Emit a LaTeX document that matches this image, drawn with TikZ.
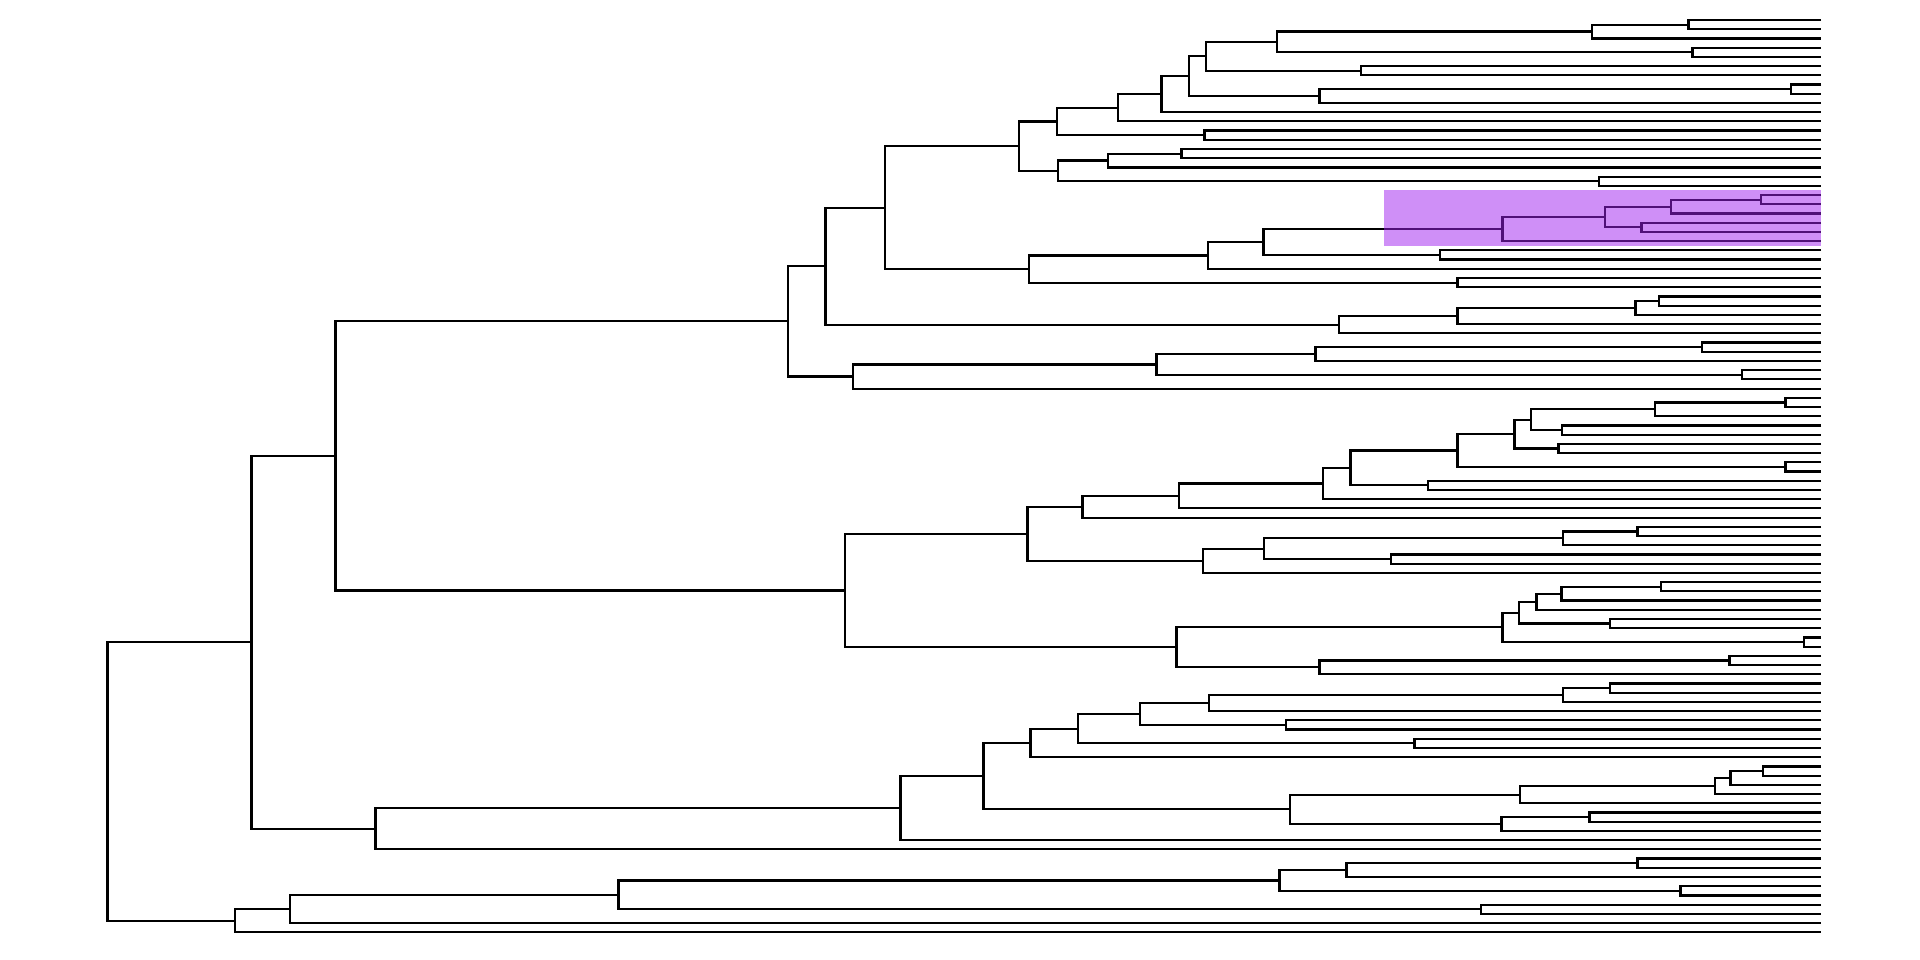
\documentclass[tikz,border=0pt]{standalone}
\usetikzlibrary{calc}
\definecolor{cladepurple}{RGB}{160,32,240}

% one clade: name, x of the fork, upper child, lower child
\newcommand\clade[4]{%
  \path let \p1=(#3), \p2=(#4) in coordinate (#1) at (#2pt,{0.5*(\y1+\y2)});
  \draw[branch] (#3) -| (#1) |- (#4);}

\begin{document}
\begin{tikzpicture}[x=1pt,y=-1pt,
    branch/.style={line width=2.2pt},
    highlight/.style={fill=cladepurple,fill opacity=0.5}]
        \useasboundingbox (0,0) rectangle (1920,960);

        \foreach \i in {1,...,100}
            \coordinate (l\i) at (1821,{20+(\i-1)*9.215});

        \clade{a1}{1688.5}{l1}{l2}
        \clade{a2}{1592}{a1}{l3}
        \clade{a3}{1692.5}{l4}{l5}
        \clade{a4}{1277}{a2}{a3}
        \clade{a5}{1361}{l6}{l7}
        \clade{a6}{1206}{a4}{a5}
        \clade{a7}{1791}{l8}{l9}
        \clade{a8}{1319.5}{a7}{l10}
        \clade{a9}{1189}{a6}{a8}
        \clade{a10}{1161.5}{a9}{l11}
        \clade{a11}{1118}{a10}{l12}
        \clade{a12}{1204.5}{l13}{l14}
        \clade{a13}{1057}{a11}{a12}
        \clade{a14}{1181.5}{l15}{l16}
        \clade{a15}{1108}{a14}{l17}
        \clade{a16}{1599}{l18}{l19}
        \clade{a17}{1058}{a15}{a16}
        \clade{a18}{1019}{a13}{a17}

        \clade{b1}{1761}{l20}{l21}
        \clade{b2}{1671}{b1}{l22}
        \clade{b3}{1641.5}{l23}{l24}
        \clade{b4}{1605}{b2}{b3}
        \clade{b5}{1502.5}{b4}{l25}
        \clade{b6}{1440}{l26}{l27}
        \clade{b7}{1263.5}{b5}{b6}
        \clade{b8}{1208}{b7}{l28}
        \clade{b9}{1457.5}{l29}{l30}
        \clade{b10}{1029}{b8}{b9}
        \clade{c1}{885}{a18}{b10}

        \clade{d1}{1659}{l31}{l32}
        \clade{d2}{1635.5}{d1}{l33}
        \clade{d3}{1457.5}{d2}{l34}
        \clade{d4}{1339}{d3}{l35}
        \clade{c2}{825.5}{c1}{d4}
        \clade{d5}{1702}{l36}{l37}
        \clade{d6}{1315.5}{d5}{l38}
        \clade{d7}{1742}{l39}{l40}
        \clade{d8}{1156.5}{d6}{d7}
        \clade{d9}{853}{d8}{l41}
        \clade{c3}{788}{c2}{d9}

        \clade{e1}{1785.5}{l42}{l43}
        \clade{e2}{1655}{e1}{l44}
        \clade{e3}{1562}{l45}{l46}
        \clade{e4}{1531}{e2}{e3}
        \clade{e5}{1558.5}{l47}{l48}
        \clade{e6}{1514.5}{e4}{e5}
        \clade{e7}{1785.5}{l49}{l50}
        \clade{e8}{1457.5}{e6}{e7}
        \clade{e9}{1428}{l51}{l52}
        \clade{e10}{1350.5}{e8}{e9}
        \clade{e11}{1323}{e10}{l53}
        \clade{e12}{1179}{e11}{l54}
        \clade{e13}{1082.5}{e12}{l55}
        \clade{f1}{1637.5}{l56}{l57}
        \clade{f2}{1563}{f1}{l58}
        \clade{f3}{1391}{l59}{l60}
        \clade{f4}{1264}{f2}{f3}
        \clade{f5}{1203}{f4}{l61}
        \clade{f6}{1027.5}{e13}{f5}

        \clade{g1}{1661}{l62}{l63}
        \clade{g2}{1561.5}{g1}{l64}
        \clade{g3}{1536.5}{g2}{l65}
        \clade{g4}{1610}{l66}{l67}
        \clade{g5}{1519}{g3}{g4}
        \clade{g6}{1804}{l68}{l69}
        \clade{g7}{1502.5}{g5}{g6}
        \clade{g8}{1729.5}{l70}{l71}
        \clade{g9}{1319.5}{g8}{l72}
        \clade{g10}{1176.5}{g7}{g9}
        \clade{c4}{845}{f6}{g10}
        \clade{c5}{335.5}{c3}{c4}

        \clade{h1}{1610}{l73}{l74}
        \clade{h2}{1563}{h1}{l75}
        \clade{h3}{1209}{h2}{l76}
        \clade{h4}{1286}{l77}{l78}
        \clade{h5}{1140}{h3}{h4}
        \clade{h6}{1414.5}{l79}{l80}
        \clade{h7}{1078}{h5}{h6}
        \clade{h8}{1030.5}{h7}{l81}
        \clade{i1}{1763}{l82}{l83}
        \clade{i2}{1730.5}{i1}{l84}
        \clade{i3}{1715}{i2}{l85}
        \clade{i4}{1520}{i3}{l86}
        \clade{i5}{1589.5}{l87}{l88}
        \clade{i6}{1501.5}{i5}{l89}
        \clade{i7}{1290}{i4}{i6}
        \clade{h9}{983.5}{h8}{i7}
        \clade{h10}{900.5}{h9}{l90}
        \clade{h11}{375.5}{h10}{l91}
        \clade{c6}{251.5}{c5}{h11}

        \clade{j1}{1637.5}{l92}{l93}
        \clade{j2}{1346.5}{j1}{l94}
        \clade{j3}{1680.5}{l95}{l96}
        \clade{j4}{1279.5}{j2}{j3}
        \clade{j5}{1481}{l97}{l98}
        \clade{j6}{618.5}{j4}{j5}
        \clade{j7}{290}{j6}{l99}
        \clade{j8}{235}{j7}{l100}
        \clade{root}{107.5}{c6}{j8}

%        highlighted clade
        \fill[highlight] (1383.5,190.5) rectangle (1821,245.8);

    \end{tikzpicture}
\end{document}
